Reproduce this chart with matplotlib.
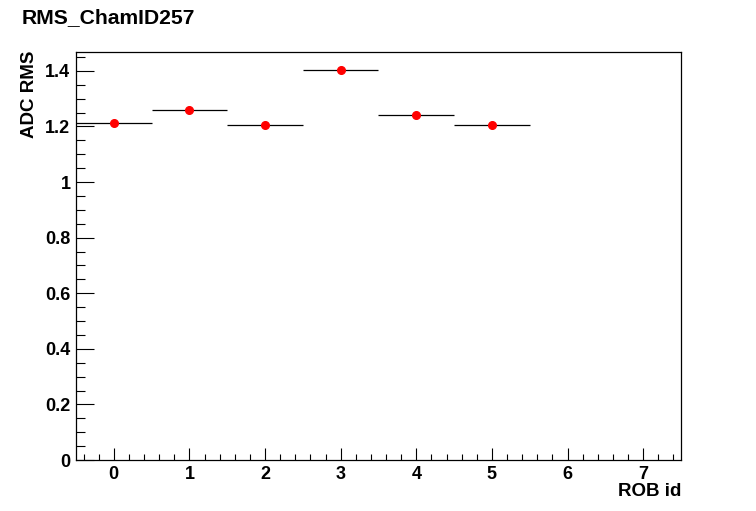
import matplotlib
matplotlib.use("Agg")
import matplotlib.pyplot as plt
from matplotlib.ticker import MultipleLocator, FuncFormatter

# values
rob_ids = [0, 1, 2, 3, 4, 5]
rms_values = [1.214, 1.261, 1.204, 1.404, 1.243, 1.207]
rms_errors = [0.006, 0.006, 0.006, 0.006, 0.006, 0.006]
bin_half_width = [0.5, 0.5, 0.5, 0.5, 0.5, 0.5]

plt.rcParams["font.family"] = ["Liberation Sans", "DejaVu Sans"]
plt.rcParams["font.weight"] = "bold"

fig = plt.figure(figsize=(7.56, 5.11), dpi=100)
ax = fig.add_axes([0.1005, 0.0998, 0.8003, 0.799])

ax.errorbar(
    rob_ids,
    rms_values,
    xerr=bin_half_width,
    yerr=rms_errors,
    fmt="o",
    color="red",
    ecolor="black",
    elinewidth=0.9,
    capsize=0,
    markersize=5.5,
    zorder=3,
)

ax.set_xlim(-0.5, 7.5)
ax.set_ylim(0, 1.469)

ax.xaxis.set_major_locator(MultipleLocator(1))
ax.xaxis.set_minor_locator(MultipleLocator(0.2))
ax.yaxis.set_major_locator(MultipleLocator(0.2))
ax.yaxis.set_minor_locator(MultipleLocator(0.05))
ax.yaxis.set_major_formatter(FuncFormatter(lambda v, p: f"{v:g}"))

ax.tick_params(axis="x", which="major", direction="in", length=8.6, width=0.8,
               labelsize=13, pad=4)
ax.tick_params(axis="x", which="minor", direction="in", length=4.3, width=0.8)
ax.tick_params(axis="y", which="major", direction="in", length=13, width=0.8,
               labelsize=13, pad=4)
ax.tick_params(axis="y", which="minor", direction="in", length=6.5, width=0.8)

for lab in ax.get_xticklabels() + ax.get_yticklabels():
    lab.set_fontweight("bold")

for s in ax.spines.values():
    s.set_linewidth(0.9)

fig.text(22 / 756, 1 - 18 / 511, "RMS_ChamID257", fontsize=15.2,
         fontweight="bold", ha="left", va="center")
fig.text(681 / 756, 1 - 492 / 511, "ROB id", fontsize=13.5,
         fontweight="bold", ha="right", va="center")
fig.text(29 / 756, 1 - 51 / 511, "ADC RMS", fontsize=13.5,
         fontweight="bold", ha="center", va="top", rotation=90)

fig.savefig("out.png", dpi=100, facecolor="white")
